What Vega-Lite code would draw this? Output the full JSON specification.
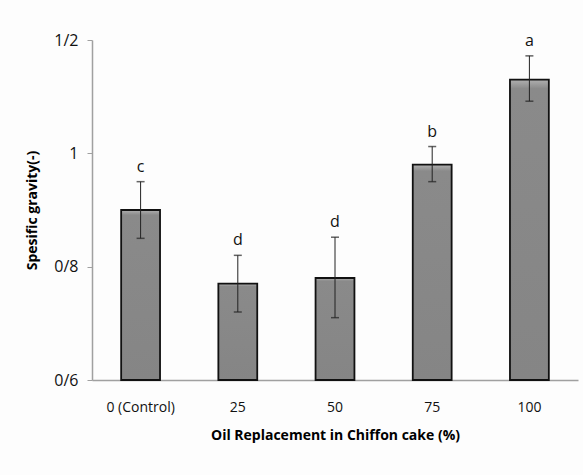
{
  "$schema": "https://vega.github.io/schema/vega-lite/v6.json",
  "autosize": {"type": "none"},
  "width": 486,
  "height": 340,
  "padding": {"left": 92, "top": 40, "right": 5, "bottom": 95},
  "background": "#fdfdfd",
  "config": {
    "view": {"stroke": null},
    "font": "Open Sans"
  },
  "data": {
    "values": [
      {"group": "0 (Control)", "mean": 0.90, "lo": 0.85, "hi": 0.95, "letter": "c"},
      {"group": "25", "mean": 0.77, "lo": 0.72, "hi": 0.82, "letter": "d"},
      {"group": "50", "mean": 0.78, "lo": 0.71, "hi": 0.852, "letter": "d"},
      {"group": "75", "mean": 0.98, "lo": 0.95, "hi": 1.012, "letter": "b"},
      {"group": "100", "mean": 1.13, "lo": 1.092, "hi": 1.172, "letter": "a"}
    ]
  },
  "encoding": {
    "x": {
      "field": "group",
      "type": "nominal",
      "sort": null,
      "scale": {"paddingInner": 0.6, "paddingOuter": 0.3},
      "axis": {
        "title": "Oil Replacement in Chiffon cake (%)",
        "titleFont": "Open Sans",
        "titleFontSize": 14,
        "titleFontWeight": "bold",
        "titleColor": "#000",
        "titlePadding": 14,
        "labelAngle": 0,
        "labelFontSize": 14,
        "labelColor": "#111",
        "labelPadding": 20,
        "ticks": false,
        "domainColor": "#a0a0a0",
        "domainWidth": 1.5
      }
    }
  },
  "layer": [
    {
      "mark": {
        "type": "bar",
        "stroke": "#111",
        "strokeWidth": 1.8,
        "fill": {
          "gradient": "linear",
          "x1": 0, "y1": 0, "x2": 0, "y2": 1,
          "stops": [
            {"offset": 0, "color": "#b0b0b0"},
            {"offset": 0.03, "color": "#8a8a8a"},
            {"offset": 1, "color": "#858585"}
          ]
        }
      },
      "encoding": {
        "y": {
          "field": "mean",
          "type": "quantitative",
          "scale": {"domain": [0.6, 1.2], "zero": false, "nice": false},
          "axis": {
            "title": "Spesific gravity(-)",
            "titleFont": "Open Sans",
            "titleFontSize": 14,
            "titleFontWeight": "bold",
            "titleColor": "#000",
            "titlePadding": 14,
            "values": [0.6, 0.8, 1, 1.2],
            "labelExpr": "replace(toString(datum.value), '.', '/')",
            "labelFontSize": 16,
            "labelColor": "#111",
            "labelPadding": 9,
            "tickSize": 5,
            "tickColor": "#a0a0a0",
            "domainColor": "#a0a0a0",
            "domainWidth": 1.5,
            "grid": false
          }
        },
        "y2": {"datum": 0.6}
      }
    },
    {
      "mark": {"type": "rule", "color": "#222", "strokeWidth": 1},
      "encoding": {
        "y": {"field": "lo", "type": "quantitative"},
        "y2": {"field": "hi"}
      }
    },
    {
      "mark": {"type": "tick", "color": "#222", "size": 8, "thickness": 1.5},
      "encoding": {
        "y": {"field": "lo", "type": "quantitative"}
      }
    },
    {
      "mark": {"type": "tick", "color": "#222", "size": 8, "thickness": 1.5},
      "encoding": {
        "y": {"field": "hi", "type": "quantitative"}
      }
    },
    {
      "mark": {"type": "text", "fontSize": 16, "color": "#111", "dy": -15, "font": "Open Sans"},
      "encoding": {
        "y": {"field": "hi", "type": "quantitative"},
        "text": {"field": "letter"}
      }
    }
  ]
}
